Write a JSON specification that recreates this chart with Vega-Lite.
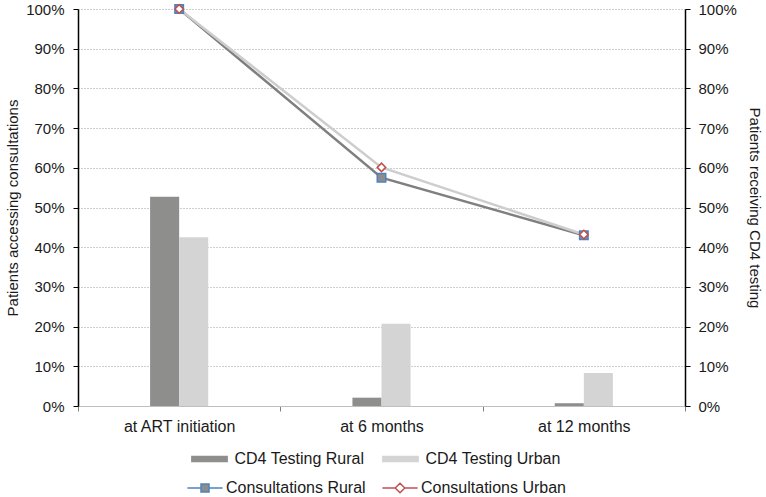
{
  "$schema": "https://vega.github.io/schema/vega-lite/v6.json",
  "width": 607,
  "height": 397,
  "autosize": {"type": "none"},
  "padding": {"left": 78, "top": 9, "right": 81, "bottom": 91},
  "background": "#ffffff",
  "config": {
    "font": "Liberation Sans",
    "view": {"stroke": null},
    "axis": {
      "labelFont": "Liberation Sans",
      "labelFontSize": 15,
      "labelColor": "#1a1a1a",
      "titleFont": "Liberation Sans",
      "titleFontSize": 15,
      "titleFontWeight": "normal",
      "titleColor": "#1a1a1a"
    },
    "legend": {
      "labelFont": "Liberation Sans",
      "labelFontSize": 16,
      "labelColor": "#1a1a1a",
      "layout": {"bottom": {"anchor": "middle", "direction": "vertical", "center": true, "margin": 13}}
    }
  },
  "data": {
    "values": [
      {"kind": "bar", "series": "CD4 Testing Rural", "period": "at ART initiation", "value": 0.527},
      {"kind": "bar", "series": "CD4 Testing Rural", "period": "at 6 months", "value": 0.021},
      {"kind": "bar", "series": "CD4 Testing Rural", "period": "at 12 months", "value": 0.007},
      {"kind": "bar", "series": "CD4 Testing Urban", "period": "at ART initiation", "value": 0.425},
      {"kind": "bar", "series": "CD4 Testing Urban", "period": "at 6 months", "value": 0.207},
      {"kind": "bar", "series": "CD4 Testing Urban", "period": "at 12 months", "value": 0.083},
      {"kind": "line", "series": "Consultations Rural", "period": "at ART initiation", "value": 1.0},
      {"kind": "line", "series": "Consultations Rural", "period": "at 6 months", "value": 0.575},
      {"kind": "line", "series": "Consultations Rural", "period": "at 12 months", "value": 0.43},
      {"kind": "line", "series": "Consultations Urban", "period": "at ART initiation", "value": 1.0},
      {"kind": "line", "series": "Consultations Urban", "period": "at 6 months", "value": 0.601},
      {"kind": "line", "series": "Consultations Urban", "period": "at 12 months", "value": 0.432}
    ]
  },
  "encoding": {
    "x": {
      "field": "period",
      "type": "nominal",
      "sort": ["at ART initiation", "at 6 months", "at 12 months"],
      "scale": {"paddingInner": 0, "paddingOuter": 0},
      "axis": {
        "title": null,
        "labelAngle": 0,
        "labelPadding": 7,
        "labelFontSize": 16,
        "domainColor": "#bfbfbf",
        "tickColor": "#7f7f7f",
        "tickSize": 5,
        "tickBand": "extent",
        "grid": false
      }
    }
  },
  "layer": [
    {
      "transform": [{"filter": "datum.kind === 'bar'"}],
      "mark": {"type": "bar"},
      "encoding": {
        "xOffset": {
          "field": "series",
          "type": "nominal",
          "scale": {
            "domain": ["_a", "_b", "CD4 Testing Rural", "CD4 Testing Urban", "_c", "_d"],
            "paddingInner": 0,
            "paddingOuter": 0.48
          }
        },
        "y": {
          "field": "value",
          "type": "quantitative",
          "scale": {"domain": [0, 1]},
          "axis": {
            "orient": "right",
            "title": "Patients receiving CD4 testing",
            "titlePadding": 10,
            "format": ".0%",
            "tickCount": 10,
            "grid": false,
            "domainColor": "#000000",
            "domainWidth": 1.5,
            "tickColor": "#000000",
            "tickSize": 5,
            "labelPadding": 8
          }
        },
        "fill": {
          "field": "series",
          "type": "nominal",
          "scale": {"domain": ["CD4 Testing Rural", "CD4 Testing Urban"], "range": ["#8e8f8d", "#d3d4d3"]},
          "legend": {
            "orient": "bottom",
            "direction": "horizontal",
            "title": null,
            "symbolType": "M-4.6,-0.8H4.6V0.8H-4.6Z",
            "symbolSize": 64,
            "symbolStrokeWidth": 0,
            "labelOffset": 17,
            "columnPadding": 17,
            "offset": 17
          }
        }
      }
    },
    {
      "transform": [{"filter": "datum.kind === 'line'"}],
      "mark": {"type": "line", "strokeWidth": 2.5},
      "encoding": {
        "y": {
          "field": "value",
          "type": "quantitative",
          "scale": {"domain": [0, 1]},
          "axis": {
            "orient": "left",
            "title": "Patients accessing consultations",
            "titlePadding": 5,
            "format": ".0%",
            "tickCount": 10,
            "grid": true,
            "gridColor": "#a0a0a0",
            "gridDash": [1, 2],
            "gridWidth": 1,
            "domainColor": "#000000",
            "domainWidth": 1.5,
            "tickColor": "#000000",
            "tickSize": 5,
            "labelPadding": 9
          }
        },
        "stroke": {
          "field": "series",
          "type": "nominal",
          "scale": {"domain": ["Consultations Rural", "Consultations Urban"], "range": ["#7f7f7f", "#cdcdcd"]},
          "legend": null
        }
      }
    },
    {
      "transform": [{"filter": "datum.kind === 'line'"}],
      "mark": {"type": "point", "filled": true, "size": 72, "strokeWidth": 1.5, "opacity": 1},
      "encoding": {
        "y": {
          "field": "value",
          "type": "quantitative",
          "scale": {"domain": [0, 1]},
          "axis": null
        },
        "shape": {
          "field": "series",
          "type": "nominal",
          "scale": {"domain": ["Consultations Rural", "Consultations Urban"], "range": ["square", "diamond"]},
          "legend": null
        },
        "fill": {
          "field": "series",
          "type": "nominal",
          "scale": {"domain": ["Consultations Rural", "Consultations Urban"], "range": ["#8c8c8c", "#ffffff"]},
          "legend": null
        },
        "stroke": {
          "field": "series",
          "type": "nominal",
          "scale": {"domain": ["Consultations Rural", "Consultations Urban"], "range": ["#4f81bd", "#c0504d"]},
          "legend": null
        }
      }
    },
    {
      "transform": [{"filter": "datum.kind === 'line'"}],
      "mark": {"type": "point", "filled": true, "size": 64, "strokeWidth": 1.5, "opacity": 0},
      "encoding": {
        "y": {
          "field": "value",
          "type": "quantitative",
          "scale": {"domain": [0, 1]},
          "axis": null
        },
        "shape": {
          "field": "series",
          "type": "nominal",
          "scale": {
            "domain": ["Consultations Rural", "Consultations Urban"],
            "range": ["M-4.4,0H-1M1,0H4.4M-1,-1H1V1H-1Z", "M-4.4,0H-1.2M1.2,0H4.4M0,-1.2L1.2,0L0,1.2L-1.2,0Z"]
          },
          "legend": {
            "orient": "bottom",
            "direction": "horizontal",
            "title": null,
            "symbolSize": 64,
            "symbolOpacity": 1,
            "symbolStrokeWidth": 1.5,
            "labelOffset": 13,
            "columnPadding": 13
          }
        },
        "fill": {
          "field": "series",
          "type": "nominal",
          "scale": {"domain": ["Consultations Rural", "Consultations Urban"], "range": ["#8c8c8c", "#ffffff"]},
          "legend": {
            "orient": "bottom",
            "direction": "horizontal",
            "title": null,
            "symbolSize": 64,
            "symbolOpacity": 1,
            "symbolStrokeWidth": 1.5,
            "labelOffset": 13,
            "columnPadding": 13
          }
        },
        "stroke": {
          "field": "series",
          "type": "nominal",
          "scale": {"domain": ["Consultations Rural", "Consultations Urban"], "range": ["#4f81bd", "#c0504d"]},
          "legend": {
            "orient": "bottom",
            "direction": "horizontal",
            "title": null,
            "symbolSize": 64,
            "symbolOpacity": 1,
            "symbolStrokeWidth": 1.5,
            "labelOffset": 13,
            "columnPadding": 13
          }
        }
      }
    }
  ],
  "resolve": {"scale": {"y": "independent", "fill": "independent", "stroke": "independent", "shape": "independent"}}
}
